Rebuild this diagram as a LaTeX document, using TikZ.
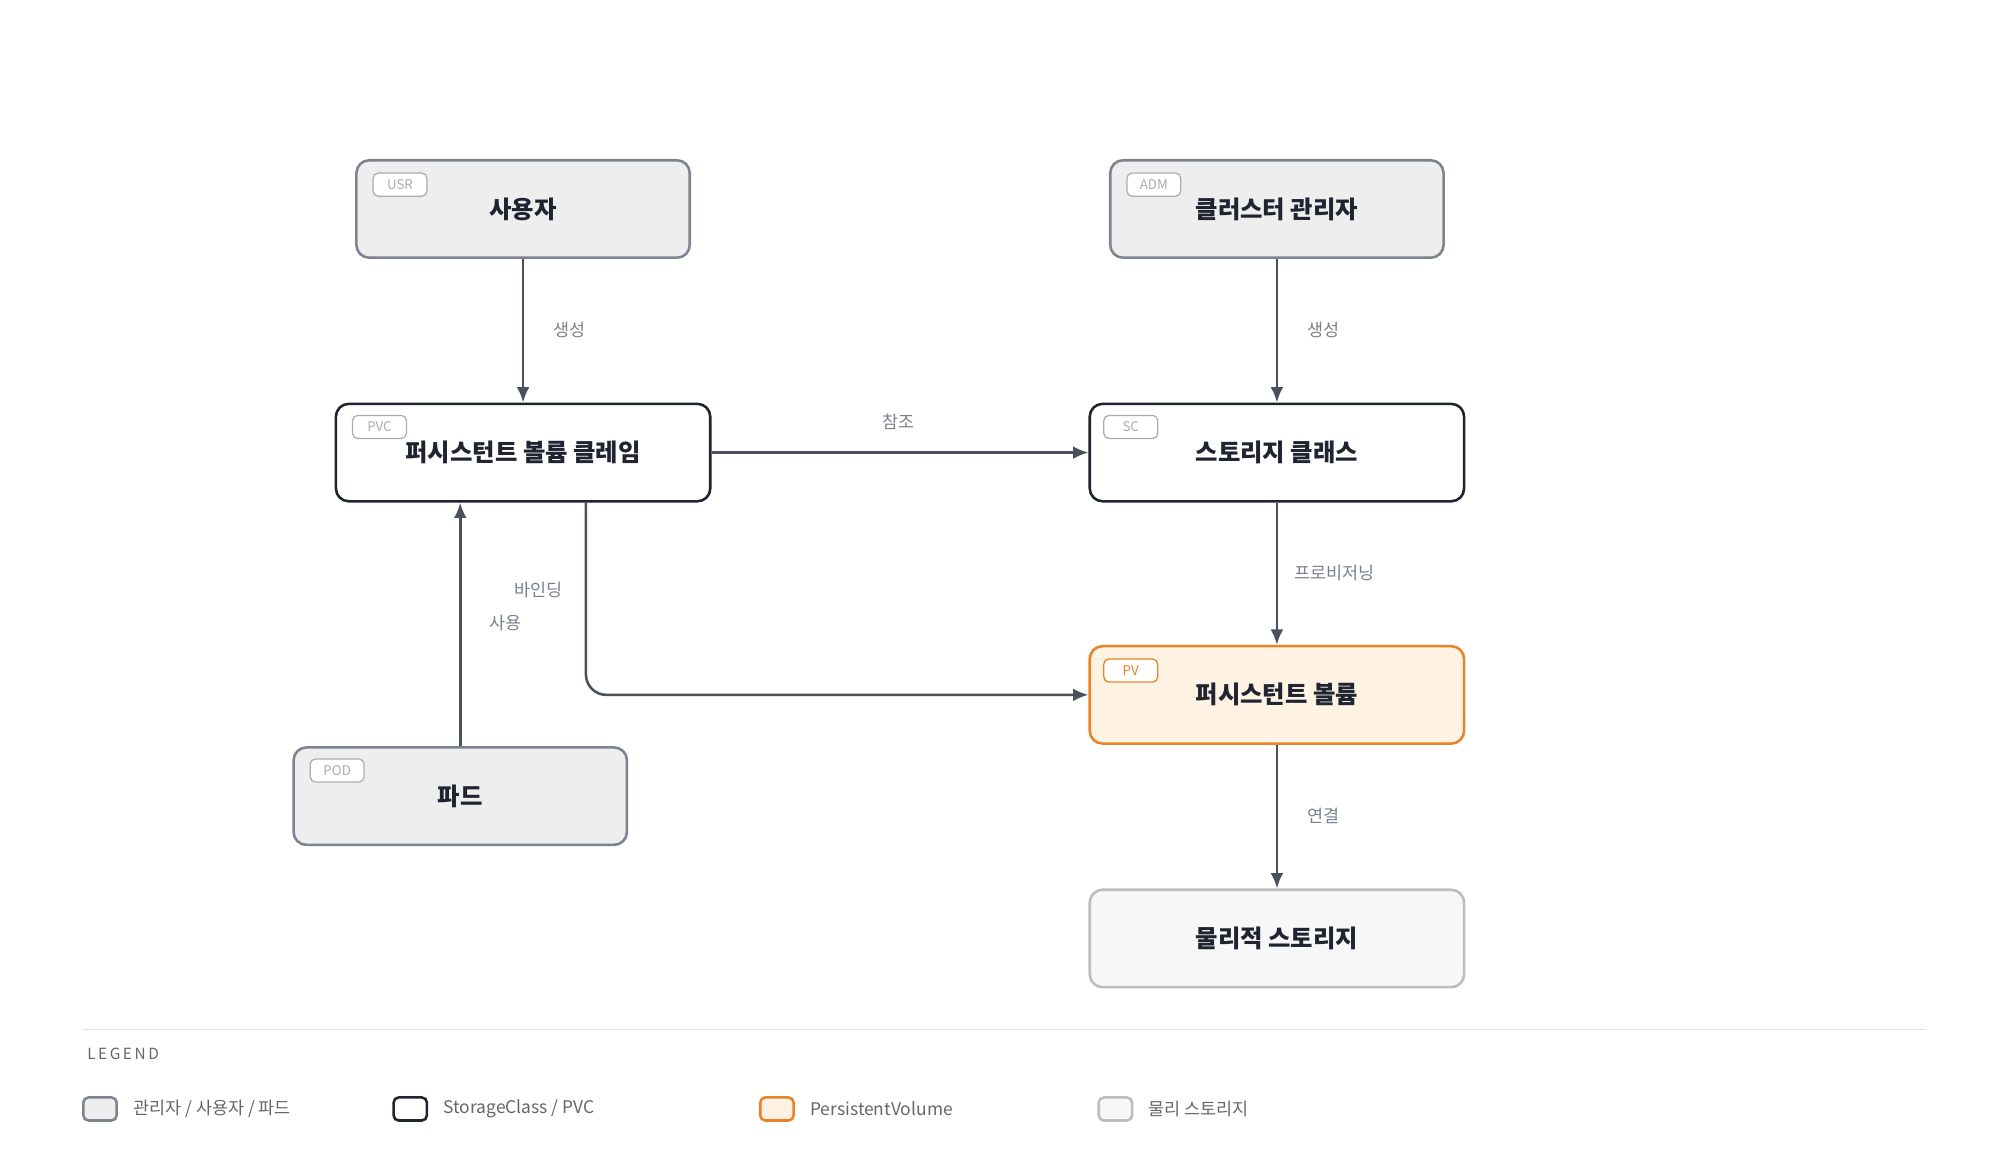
\documentclass[tikz,border=0pt]{standalone}
\usepackage{fontspec}
\setmainfont{Noto Sans CJK KR}
\usetikzlibrary{arrows.meta}
\definecolor{dk}{HTML}{1F2430}
\definecolor{gfill}{HTML}{EEEEEF}
\definecolor{gbord}{HTML}{7D838F}
\definecolor{bbord}{HTML}{A8ADB5}
\definecolor{ofill}{HTML}{FEF3E2}
\definecolor{obord}{HTML}{E8832A}
\definecolor{pfill}{HTML}{F7F7F7}
\definecolor{pbord}{HTML}{BDBDBD}
\definecolor{arr}{HTML}{4A505C}
\definecolor{lbl}{HTML}{7A808C}
\tikzset{
 box/.style={draw, rounded corners=5pt, line width=1pt, minimum width=130pt, minimum height=38pt, font=\bfseries\fontsize{9.5}{11}\selectfont, text=dk},
 wbox/.style={box, minimum width=146pt},
 grey/.style={fill=gfill, draw=gbord},
 dark/.style={fill=white, draw=dk},
 pvs/.style={fill=ofill, draw=obord},
 phys/.style={fill=pfill, draw=pbord},
 badge/.style={draw=#1, fill=white, rounded corners=2pt, line width=0.5pt, minimum width=21pt, minimum height=9pt, inner sep=0pt, font=\fontsize{5.2}{6}\selectfont, text=#1},
 conn/.style={draw=arr, line width=1pt, -{Latex[length=6pt,width=5pt]}},
 lab/.style={text=lbl, font=\fontsize{6.8}{8}\selectfont},
 sw/.style={draw=#1, rounded corners=2pt, line width=1pt, minimum width=13pt, minimum height=9pt, inner sep=0pt},
 leg/.style={text=gray!80!black, font=\fontsize{6.8}{8}\selectfont, anchor=west}
}
\begin{document}
\begin{tikzpicture}[x=0.5pt,y=-0.5pt]
\useasboundingbox (0,0) rectangle (1560,911);
\node[box,grey] (usr) at (408,163) {사용자};
\node[box,grey] (adm) at (996,163) {클러스터 관리자};
\node[wbox,dark] (pvc) at (408,353) {퍼시스턴트 볼륨 클레임};
\node[wbox,dark] (sc) at (996,353) {스토리지 클래스};
\node[wbox,pvs] (pv) at (996,542) {퍼시스턴트 볼륨};
\node[box,grey] (pod) at (359,621) {파드};
\node[wbox,phys] (ps) at (996,732) {물리적 스토리지};
\node[badge=bbord] (b1) at (312,144) {USR};
\node[badge=bbord] (b2) at (900,144) {ADM};
\node[badge=bbord] (b3) at (296,333) {PVC};
\node[badge=bbord] (b4) at (882,333) {SC};
\node[badge=obord] (b5) at (882,523) {PV};
\node[badge=bbord] (b6) at (263,601) {POD};
\draw[conn] (usr) -- (pvc);
\draw[conn] (adm) -- (sc);
\draw[conn] (pvc) -- (sc);
\draw[conn] (sc) -- (pv);
\draw[conn] (pv) -- (ps);
\draw[conn] (pod.north -| 359,0) -- (pvc.south -| 359,0);
\draw[conn, rounded corners=8pt] (pvc.south -| 457,0) -- (457,542) -- (pv.west);
\node[lab] at (444,257) {생성};
\node[lab] at (1032,257) {생성};
\node[lab] at (701,329) {참조};
\node[lab] at (1041,447) {프로비저닝};
\node[lab] at (1032,636) {연결};
\node[lab] at (420,460) {바인딩};
\node[lab] at (394,486) {사용};
\draw[gray!25, line width=0.6pt] (65,803) -- (1502,803);
\node[anchor=west, text=gray!80!black, font=\fontsize{6}{7}\selectfont] at (61,822) {L\,E\,G\,E\,N\,D};
\node[sw=gbord, fill=gfill] (l1) at (78,865) {};
\node[leg] at (97,865) {관리자 / 사용자 / 파드};
\node[sw=dk, fill=white] (l2) at (320,865) {};
\node[leg] at (339,865) {StorageClass / PVC};
\node[sw=obord, fill=ofill] (l3) at (606,865) {};
\node[leg] at (625,865) {PersistentVolume};
\node[sw=pbord, fill=pfill] (l4) at (870,865) {};
\node[leg] at (889,865) {물리 스토리지};
\end{tikzpicture}
\end{document}
